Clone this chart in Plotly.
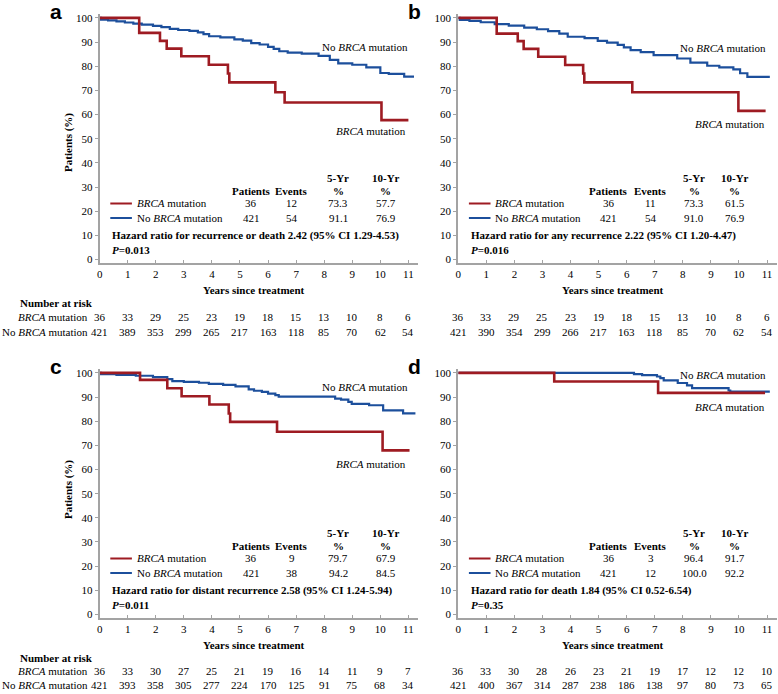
import plotly.graph_objects as go

W, H = 778, 694
SERIF = "Liberation Serif"
RED = "#9e1b22"
BLUE = "#1c4f9c"

YEARS = list(range(12))

# ---- panel a: recurrence or death ----
A_BRCA_T = [0, 1.41, 2.15, 2.39, 2.91, 3.89, 4.57, 4.62, 6.26, 6.59, 10.04, 11.0]
A_BRCA_S = [100, 93.8, 90.5, 87.3, 84.1, 80.6, 77.0, 73.3, 69.2, 65.0, 57.7, 57.7]
A_NO_T = [0, 0.05, 0.3, 0.6, 0.9, 1.2, 1.5, 1.9, 2.2, 2.5, 2.8, 3.2, 3.5, 3.7, 3.9, 4.3, 4.8,
          5.1, 5.4, 5.7, 6.0, 6.2, 6.4, 6.7, 7.2, 7.8, 8.2, 8.5, 9.0, 9.5, 10.0, 10.3, 10.85, 11.2]
A_NO_S = [100, 99.3, 99.0, 98.6, 98.1, 97.6, 97.2, 96.7, 96.2, 95.5, 95.0, 94.6, 94.0, 93.3, 92.4,
          91.9, 91.1, 90.6, 89.6, 89.0, 88.0, 87.2, 86.2, 85.6, 85.2, 84.3, 82.6, 81.2, 80.6, 79.5,
          77.2, 76.8, 75.7, 75.7]
A_TABLE = [["36", "12", "73.3", "57.7"], ["421", "54", "91.1", "76.9"]]
A_HR = "Hazard ratio for recurrence or death 2.42 (95% CI 1.29-4.53)"
A_P = "0.013"
A_RISK_BRCA = [36, 33, 29, 25, 23, 19, 18, 15, 13, 10, 8, 6]
A_RISK_NO = [421, 389, 353, 299, 265, 217, 163, 118, 85, 70, 62, 54]

# ---- panel b: any recurrence ----
B_BRCA_T = [0, 1.37, 2.12, 2.33, 2.85, 3.81, 4.45, 4.49, 6.20, 9.98, 10.95]
B_BRCA_S = [100, 93.5, 90.4, 87.2, 83.9, 80.5, 77.0, 73.3, 69.2, 61.5, 61.5]
B_NO_T = [0, 0.05, 0.4, 0.8, 1.3, 1.8, 2.35, 2.8, 3.2, 3.6, 3.9, 4.5, 4.97, 5.3, 5.68, 5.9, 6.14,
          6.5, 6.96, 7.8, 8.27, 8.87, 9.3, 9.8, 10.04, 10.3, 11.1]
B_NO_S = [100, 99.2, 98.8, 98.2, 97.4, 96.8, 96.0, 95.3, 94.5, 93.5, 92.2, 91.6, 90.5, 89.8, 88.8,
          87.8, 86.7, 85.8, 84.6, 83.2, 81.5, 80.2, 79.5, 78.7, 77.1, 75.6, 75.6]
B_TABLE = [["36", "11", "73.3", "61.5"], ["421", "54", "91.0", "76.9"]]
B_HR = "Hazard ratio for any recurrence 2.22 (95% CI 1.20-4.47)"
B_P = "0.016"
B_RISK_BRCA = [36, 33, 29, 25, 23, 19, 18, 15, 13, 10, 8, 6]
B_RISK_NO = [421, 390, 354, 299, 266, 217, 163, 118, 85, 70, 62, 54]

# ---- panel c: distant recurrence ----
C_BRCA_T = [0, 1.44, 2.41, 2.92, 3.91, 4.6, 4.65, 6.32, 10.08, 11.04]
C_BRCA_S = [100, 97.1, 93.6, 90.3, 86.9, 83.2, 79.7, 75.6, 67.9, 67.9]
C_NO_T = [0, 0.05, 0.6, 1.29, 1.9, 2.41, 2.59, 3.0, 3.54, 3.89, 4.4, 4.84, 5.31, 5.5, 5.78, 6.0,
          6.26, 6.38, 8.39, 8.6, 8.86, 8.98, 9.6, 10.1, 10.81, 11.25]
C_NO_S = [100, 99.5, 99.2, 98.8, 98.2, 97.4, 96.6, 96.3, 95.9, 95.4, 95.0, 94.4, 93.2, 92.6, 92.1,
          91.4, 90.8, 90.2, 89.3, 88.9, 88.0, 87.2, 86.6, 84.5, 83.2, 83.2]
C_TABLE = [["36", "9", "79.7", "67.9"], ["421", "38", "94.2", "84.5"]]
C_HR = "Hazard ratio for distant recurrence 2.58 (95% CI 1.24-5.94)"
C_P = "0.011"
C_RISK_BRCA = [36, 33, 30, 27, 25, 21, 19, 16, 14, 11, 9, 7]
C_RISK_NO = [421, 393, 358, 305, 277, 224, 170, 125, 91, 75, 68, 34]

# ---- panel d: death ----
D_BRCA_T = [0, 3.42, 7.12, 10.93]
D_BRCA_S = [100, 96.4, 91.7, 91.7]
D_NO_T = [0, 6.26, 6.55, 7.08, 7.2, 7.32, 7.82, 8.15, 8.33, 9.63, 9.69, 11.1]
D_NO_S = [100, 99.5, 99.1, 98.5, 97.8, 96.9, 95.8, 94.8, 93.7, 92.7, 92.2, 92.2]
D_TABLE = [["36", "3", "96.4", "91.7"], ["421", "12", "100.0", "92.2"]]
D_HR = "Hazard ratio for death 1.84 (95% CI 0.52-6.54)"
D_P = "0.35"
D_RISK_BRCA = [36, 33, 30, 28, 26, 23, 21, 19, 17, 12, 12, 10]
D_RISK_NO = [421, 400, 367, 314, 287, 238, 186, 138, 97, 80, 73, 65]


def py(p):
    return 1 - p / H


fig = go.Figure()
annotations = []
shapes = []

panels = [
    dict(letter="a", n="", x0=97, y0=259, lab=(88, 53), cols=(5.4, 6.85, 8.5, 10.2), ytitle=141,
         brca=(A_BRCA_T, A_BRCA_S), no=(A_NO_T, A_NO_S), table=A_TABLE, hr=A_HR, p=A_P,
         risk=(A_RISK_BRCA, A_RISK_NO), riskrows=(303, 317, 332), xtitle=290, labels=True),
    dict(letter="b", n="2", x0=457, y0=259, lab=(87.6, 56), cols=(5.37, 6.85, 8.4, 9.85), ytitle=None,
         brca=(B_BRCA_T, B_BRCA_S), no=(B_NO_T, B_NO_S), table=B_TABLE, hr=B_HR, p=B_P,
         risk=(B_RISK_BRCA, B_RISK_NO), riskrows=(303, 317, 332), xtitle=290, labels=False),
    dict(letter="c", n="3", x0=97, y0=616, lab=(94.3, 62.3), cols=(5.4, 6.85, 8.5, 10.2), ytitle=490,
         brca=(C_BRCA_T, C_BRCA_S), no=(C_NO_T, C_NO_S), table=C_TABLE, hr=C_HR, p=C_P,
         risk=(C_RISK_BRCA, C_RISK_NO), riskrows=(660, 673, 687), xtitle=647, labels=True),
    dict(letter="d", n="4", x0=457, y0=616, lab=(99.2, 86), cols=(5.37, 6.85, 8.4, 9.85), ytitle=None,
         brca=(D_BRCA_T, D_BRCA_S), no=(D_NO_T, D_NO_S), table=D_TABLE, hr=D_HR, p=D_P,
         risk=(D_RISK_BRCA, D_RISK_NO), riskrows=(660, 673, 687), xtitle=647, labels=False),
]

PXY = 2.43  # pixels per percent
PXX = 28.18  # pixels per year
layout_axes = {}

for pn in panels:
    n = pn["n"]
    xr, yr = "x" + n, "y" + n
    top = pn["y0"] - 101.5 * PXY
    bot = pn["y0"] + 1.5 * PXY
    layout_axes["xaxis" + n] = dict(
        domain=[pn["x0"] / W, (pn["x0"] + 11.35 * PXX) / W], range=[0, 11.35], anchor=yr,
        tickvals=YEARS, showgrid=False, zeroline=False, showline=True, linecolor="#a3a3a3",
        linewidth=2, ticks="inside", ticklen=3, tickcolor="#a3a3a3",
        tickfont=dict(family=SERIF, size=11, color="black"),
    )
    layout_axes["yaxis" + n] = dict(
        domain=[py(bot), py(top)], range=[-1.5, 101.5], anchor=xr,
        tickvals=list(range(0, 101, 10)), showgrid=False, zeroline=False, showline=True,
        linecolor="#a3a3a3", linewidth=2, ticks="outside", ticklen=3, tickcolor="#a3a3a3",
        tickfont=dict(family=SERIF, size=11, color="black"),
    )

    # KM curves
    for (t, s), col, w in [(pn["no"], BLUE, 2.2), (pn["brca"], RED, 2.6)]:
        fig.add_trace(go.Scatter(x=t, y=s, mode="lines", line=dict(color=col, width=w, shape="hv"),
                                 xaxis=xr, yaxis=yr, showlegend=False, hoverinfo="skip"))

    fnt = dict(family=SERIF, size=11, color="black")

    def ann(text, x, y, xanchor="center", font=fnt, xref=xr, yref=yr, **kw):
        annotations.append(dict(text=text, x=x, y=y, xref=xref, yref=yref, xanchor=xanchor,
                                yanchor="middle", showarrow=False, font=font, **kw))

    # curve labels
    ann("No <i>BRCA</i> mutation", 11.05, pn["lab"][0], xanchor="right")
    ann("<i>BRCA</i> mutation", 11.0, pn["lab"][1], xanchor="right")

    # table
    c1, c2, c3, c4 = pn["cols"]
    ann("<b>Patients</b>", c1, 28.5)
    ann("<b>Events</b>", c2, 28.5)
    ann("<b>5-Yr</b>", c3, 33.9)
    ann("<b>%</b>", c3, 28.5)
    ann("<b>10-Yr</b>", c4, 33.9)
    ann("<b>%</b>", c4, 28.5)
    for row, (lbl, yy, col) in enumerate([("<i>BRCA</i> mutation", 23.2, RED),
                                          ("No <i>BRCA</i> mutation", 17.2, BLUE)]):
        shapes.append(dict(type="line", xref=xr, yref=yr, x0=0.38, x1=1.15, y0=yy, y1=yy,
                           line=dict(color=col, width=2)))
        ann(lbl, 1.25, yy, xanchor="left")
        for val, cx in zip(pn["table"][row], pn["cols"]):
            ann(val, cx, yy)
    ann("<b>" + pn["hr"] + "</b>", 0.38, 10.0, xanchor="left")
    ann("<b><i>P</i>=" + pn["p"] + "</b>", 0.38, 3.8, xanchor="left")

    # axis titles and panel letter
    ann("<b>Years since treatment</b>", 5.5, py(pn["xtitle"]), yref="paper")
    if pn["ytitle"]:
        ann("<b>Patients (%)</b>", 65 / W, py(pn["ytitle"]), xref="paper", yref="paper",
            textangle=-90)
    annotations.append(dict(text="<b>" + pn["letter"] + "</b>", x=(pn["x0"] - 44) / W,
                            y=py(pn["y0"] - 249), xref="paper", yref="paper", xanchor="center",
                            yanchor="middle", showarrow=False,
                            font=dict(family="Liberation Sans", size=21, color="black")))

    # number at risk
    r0, r1, r2 = pn["riskrows"]
    if pn["labels"]:
        ann("<b>Number at risk</b>", 15 / W, py(r0), xanchor="left", xref="paper", yref="paper")
        ann("<i>BRCA</i> mutation", 87 / W, py(r1), xanchor="right", xref="paper", yref="paper")
        ann("No <i>BRCA</i> mutation", 87 / W, py(r2), xanchor="right", xref="paper", yref="paper")
    for yrs, a, b in zip(YEARS, pn["risk"][0], pn["risk"][1]):
        ann(str(a), yrs, py(r1), yref="paper")
        ann(str(b), yrs, py(r2), yref="paper")

fig.update_layout(
    width=W, height=H, margin=dict(l=0, r=0, t=0, b=0),
    paper_bgcolor="white", plot_bgcolor="white",
    annotations=annotations, shapes=shapes, showlegend=False,
    **layout_axes,
)

# page body has a default 8px margin; drop it so the figure fills the window
fig.write_html("out.html", config={"displayModeBar": False},
               post_script="document.body.style.margin='0';")
